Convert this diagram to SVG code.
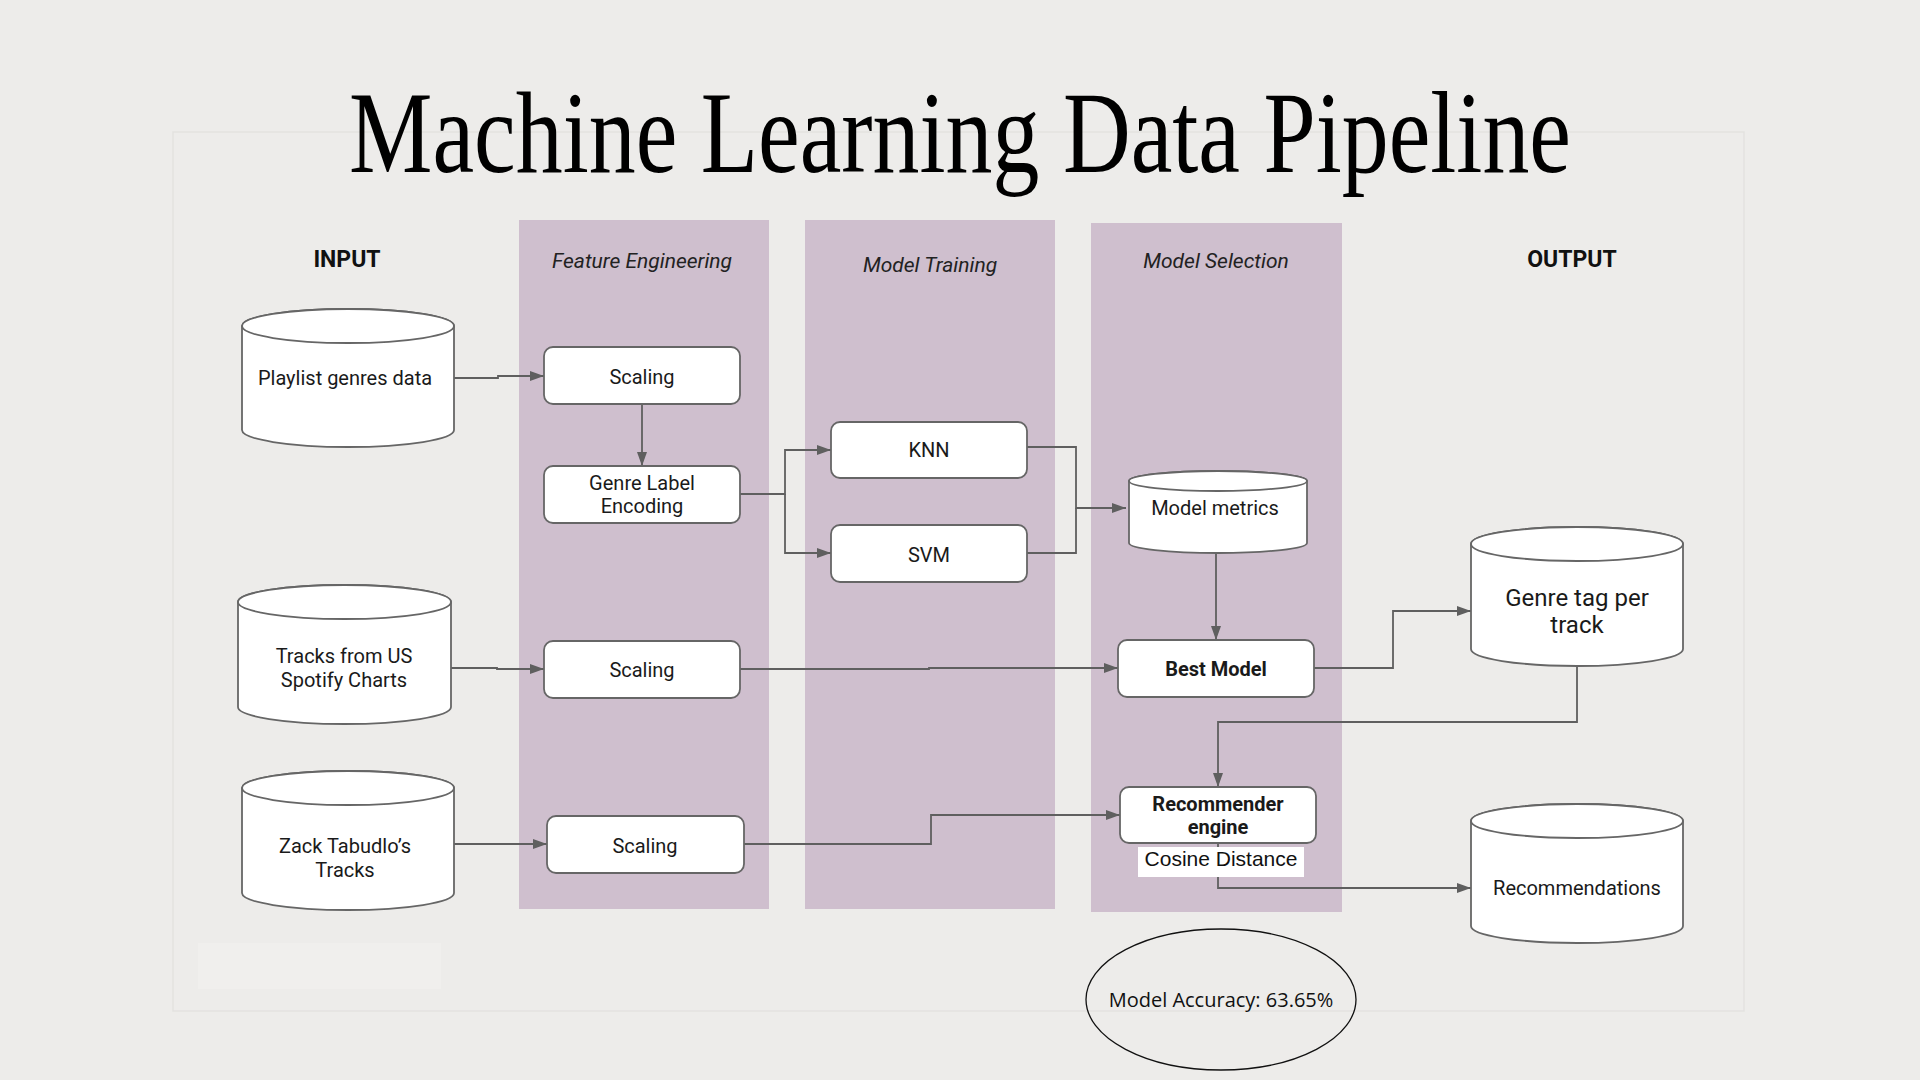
<svg xmlns="http://www.w3.org/2000/svg" width="1920" height="1080" viewBox="0 0 1920 1080">
<defs>
<marker id="arr" markerWidth="14" markerHeight="10" refX="14" refY="5" orient="auto" markerUnits="userSpaceOnUse">
<path d="M0,0 L14,5 L0,10 Z" fill="#5f5f5f"/>
</marker>
<style>
.bg{fill:#EDECEA}
.band{fill:#CFBFCE}
.box{fill:#fff;stroke:#666;stroke-width:1.8}
.cyl{fill:#fff;stroke:#666;stroke-width:1.8}
.lbl{font-family:Roboto,"Liberation Sans",sans-serif;font-size:20px;fill:#1a1a1a;text-anchor:middle}
.big{font-size:24px}
.bold{font-weight:bold}
.hdr{font-family:Roboto,"Liberation Sans",sans-serif;font-size:21px;font-style:italic;fill:#222;text-anchor:middle}
.io{font-family:Roboto,"Liberation Sans",sans-serif;font-size:23px;font-weight:bold;fill:#111;text-anchor:middle}
.conn path{fill:none;stroke:#5f5f5f;stroke-width:1.8}
</style>
</defs>
<rect class="bg" x="0" y="0" width="1920" height="1080"/>
<rect x="173" y="132" width="1571" height="879" fill="none" stroke="#E3E2E0" stroke-width="1.5"/>
<rect x="198" y="943" width="243" height="46" fill="#F0EFED"/>
<text x="960" y="172" font-family="Liberation Serif,serif" font-size="116" fill="#000" text-anchor="middle" textLength="1222" lengthAdjust="spacingAndGlyphs">Machine Learning Data Pipeline</text>

<g id="bands">
<rect class="band" x="519" y="220" width="250" height="689"/>
<rect class="band" x="805" y="220" width="250" height="689"/>
<rect class="band" x="1091" y="223" width="251" height="689"/>
</g>
<g id="headers">
<text class="io" x="347" y="267">INPUT</text>
<text class="io" x="1572" y="267">OUTPUT</text>
<text class="hdr" x="642" y="268">Feature Engineering</text>
<text class="hdr" x="930" y="272">Model Training</text>
<text class="hdr" x="1216" y="268">Model Selection</text>
</g>

<g class="conn" id="connectors">
<path d="M452,378 H498 V376 H544" marker-end="url(#arr)"/>
<path d="M642,404 V466" marker-end="url(#arr)"/>
<path d="M740,494 H785 V450 H831" marker-end="url(#arr)"/>
<path d="M785,494 V553 H831" marker-end="url(#arr)"/>
<path d="M1027,447 H1076 V508 H1126" marker-end="url(#arr)"/>
<path d="M1027,553 H1076 V508"/>
<path d="M1216,553 V640" marker-end="url(#arr)"/>
<path d="M451,668 H497 V669 H544" marker-end="url(#arr)"/>
<path d="M740,669 H929 V668 H1118" marker-end="url(#arr)"/>
<path d="M454,844 H547" marker-end="url(#arr)"/>
<path d="M744,844 H931 V815 H1120" marker-end="url(#arr)"/>
<path d="M1314,668 H1393 V611 H1471" marker-end="url(#arr)"/>
<path d="M1577,657 V722 H1218 V787" marker-end="url(#arr)"/>
<path d="M1218,843 V888 H1471" marker-end="url(#arr)"/>
</g>

<g id="playlist">
<path class="cyl" d="M242,326 A106,17 0 0 1 454,326 V430 A106,17 0 0 1 242,430 Z"/>
<ellipse class="cyl" cx="348" cy="326" rx="106" ry="17"/>
<text class="lbl" x="345" y="385">Playlist genres data</text>
</g>
<g id="tracks-us">
<path class="cyl" d="M238,602 A106.5,17 0 0 1 451,602 V707 A106.5,17 0 0 1 238,707 Z"/>
<ellipse class="cyl" cx="344.5" cy="602" rx="106.5" ry="17"/>
<text class="lbl" x="344" y="663">Tracks from US</text>
<text class="lbl" x="344" y="687">Spotify Charts</text>
</g>
<g id="zack">
<path class="cyl" d="M242,788 A106,17 0 0 1 454,788 V893 A106,17 0 0 1 242,893 Z"/>
<ellipse class="cyl" cx="348" cy="788" rx="106" ry="17"/>
<text class="lbl" x="345" y="853">Zack Tabudlo’s</text>
<text class="lbl" x="345" y="877">Tracks</text>
</g>

<g id="scaling1">
<rect class="box" x="544" y="347" width="196" height="57" rx="9"/>
<text class="lbl" x="642" y="384">Scaling</text>
</g>
<g id="genre-label">
<rect class="box" x="544" y="466" width="196" height="57" rx="9"/>
<text class="lbl" x="642" y="490">Genre Label</text>
<text class="lbl" x="642" y="513">Encoding</text>
</g>
<g id="scaling2">
<rect class="box" x="544" y="641" width="196" height="57" rx="9"/>
<text class="lbl" x="642" y="677">Scaling</text>
</g>
<g id="scaling3">
<rect class="box" x="547" y="816" width="197" height="57" rx="9"/>
<text class="lbl" x="645" y="853">Scaling</text>
</g>
<g id="knn">
<rect class="box" x="831" y="422" width="196" height="56" rx="9"/>
<text class="lbl" x="929" y="457">KNN</text>
</g>
<g id="svm">
<rect class="box" x="831" y="525" width="196" height="57" rx="9"/>
<text class="lbl" x="929" y="562">SVM</text>
</g>
<g id="model-metrics">
<path class="cyl" d="M1129,481 A89,10 0 0 1 1307,481 V543 A89,10 0 0 1 1129,543 Z"/>
<ellipse class="cyl" cx="1218" cy="481" rx="89" ry="10"/>
<text class="lbl" x="1215" y="515">Model metrics</text>
</g>
<g id="best-model">
<rect class="box" x="1118" y="640" width="196" height="57" rx="9"/>
<text class="lbl bold" x="1216" y="676">Best Model</text>
</g>
<g id="recommender">
<rect class="box" x="1120" y="787" width="196" height="56" rx="9"/>
<text class="lbl bold" x="1218" y="811">Recommender</text>
<text class="lbl bold" x="1218" y="834">engine</text>
</g>
<g id="cosine">
<rect x="1138" y="847" width="166" height="30" fill="#fff"/>
<text x="1221" y="866" font-family="Liberation Sans,Arial,sans-serif" font-size="21" fill="#111" text-anchor="middle">Cosine Distance</text>
</g>
<g id="genre-tag">
<path class="cyl" d="M1471,544 A106,17 0 0 1 1683,544 V649 A106,17 0 0 1 1471,649 Z"/>
<ellipse class="cyl" cx="1577" cy="544" rx="106" ry="17"/>
<text class="lbl big" x="1577" y="606">Genre tag per</text>
<text class="lbl big" x="1577" y="633">track</text>
</g>
<g id="recommendations">
<path class="cyl" d="M1471,821 A106,17 0 0 1 1683,821 V926 A106,17 0 0 1 1471,926 Z"/>
<ellipse class="cyl" cx="1577" cy="821" rx="106" ry="17"/>
<text class="lbl" x="1577" y="895">Recommendations</text>
</g>
<g id="accuracy">
<ellipse cx="1221" cy="999.5" rx="135" ry="70.5" fill="none" stroke="#111" stroke-width="1.3"/>
<text x="1221" y="1007" font-family="Open Sans,Noto Sans,sans-serif" font-size="20" fill="#111" text-anchor="middle">Model Accuracy: 63.65%</text>
</g>
</svg>
